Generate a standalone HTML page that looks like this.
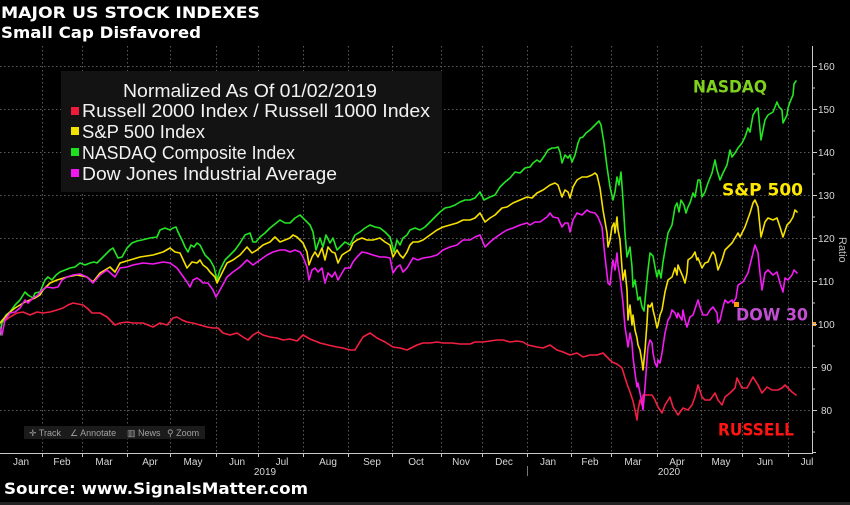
<!DOCTYPE html>
<html><head><meta charset="utf-8"><style>
html,body{margin:0;padding:0;background:#000;}
svg{display:block;}
</style></head><body>
<svg width="850" height="505" viewBox="0 0 850 505" xmlns="http://www.w3.org/2000/svg">
<rect x="0" y="0" width="850" height="505" fill="#000"/>
<!-- titles -->
<text x="1" y="18" font-family="DejaVu Sans, Liberation Sans, sans-serif" font-weight="bold" font-size="16" fill="#fff" textLength="259" lengthAdjust="spacingAndGlyphs">MAJOR US STOCK INDEXES</text>
<text x="1" y="38" font-family="DejaVu Sans, Liberation Sans, sans-serif" font-weight="bold" font-size="16" fill="#fff" textLength="200" lengthAdjust="spacingAndGlyphs">Small Cap Disfavored</text>

<!-- grid -->
<g stroke="#5a5a5a" stroke-width="1" stroke-dasharray="1.5,2.5" fill="none">
<line x1="0" y1="66.5" x2="812" y2="66.5"/>
<line x1="0" y1="109.5" x2="812" y2="109.5"/>
<line x1="0" y1="152.5" x2="812" y2="152.5"/>
<line x1="0" y1="195.5" x2="812" y2="195.5"/>
<line x1="0" y1="238.5" x2="812" y2="238.5"/>
<line x1="0" y1="281.5" x2="812" y2="281.5"/>
<line x1="0" y1="324.5" x2="812" y2="324.5"/>
<line x1="0" y1="367.5" x2="812" y2="367.5"/>
<line x1="0" y1="410.5" x2="812" y2="410.5"/>
<line x1="42.5" y1="46" x2="42.5" y2="453"/>
<line x1="82.5" y1="46" x2="82.5" y2="453"/>
<line x1="127.5" y1="46" x2="127.5" y2="453"/>
<line x1="170.5" y1="46" x2="170.5" y2="453"/>
<line x1="216.5" y1="46" x2="216.5" y2="453"/>
<line x1="258.5" y1="46" x2="258.5" y2="453"/>
<line x1="303.5" y1="46" x2="303.5" y2="453"/>
<line x1="348.5" y1="46" x2="348.5" y2="453"/>
<line x1="392.5" y1="46" x2="392.5" y2="453"/>
<line x1="441.5" y1="46" x2="441.5" y2="453"/>
<line x1="482.5" y1="46" x2="482.5" y2="453"/>
<line x1="527.5" y1="46" x2="527.5" y2="453"/>
<line x1="571.5" y1="46" x2="571.5" y2="453"/>
<line x1="611.5" y1="46" x2="611.5" y2="453"/>
<line x1="657.5" y1="46" x2="657.5" y2="453"/>
<line x1="701.5" y1="46" x2="701.5" y2="453"/>
<line x1="742.5" y1="46" x2="742.5" y2="453"/>
<line x1="788.5" y1="46" x2="788.5" y2="453"/>
</g>

<!-- legend box -->
<rect x="61" y="71" width="381" height="121" fill="#131313"/>
<g font-family="Liberation Sans, Arial, sans-serif" font-size="18" fill="#f2f2f2">
<text x="123" y="97" textLength="254" lengthAdjust="spacingAndGlyphs">Normalized As Of 01/02/2019</text>
<text x="82" y="117" textLength="348" lengthAdjust="spacingAndGlyphs">Russell 2000 Index / Russell 1000 Index</text>
<text x="82" y="138" textLength="123" lengthAdjust="spacingAndGlyphs">S&amp;P 500 Index</text>
<text x="82" y="159" textLength="213" lengthAdjust="spacingAndGlyphs">NASDAQ Composite Index</text>
<text x="82" y="180" textLength="255" lengthAdjust="spacingAndGlyphs">Dow Jones Industrial Average</text>
</g>
<rect x="71" y="107" width="8" height="8" fill="#ee1c3c"/>
<rect x="71" y="127" width="8" height="8" fill="#f2e000"/>
<rect x="71" y="148" width="8" height="8" fill="#1ee01e"/>
<rect x="71" y="169" width="8" height="8" fill="#f018f0"/>

<!-- toolbar -->
<rect x="24" y="426" width="181" height="13" fill="#1b1b1b"/>
<g font-family="Liberation Sans, Arial, sans-serif" font-size="9" fill="#a0a0a0">
<text x="29" y="436">✛ Track</text>
<text x="70" y="436">∠ Annotate</text>
<text x="127" y="436">▥ News</text>
<text x="167" y="436">⚲ Zoom</text>
</g>

<!-- series -->
<g fill="none" stroke-width="1.6" stroke-linejoin="round" stroke-linecap="round">
<polyline stroke="#f21f42" points="0,323 3,322 10,317 17,313 23,312 30,315 37,312 43,313 50,312 57,310 63,308 68,305 73,303 78,304 83,305 87,308 92,313 100,313 107,317 115,325 120,323 127,322 133,323 143,323 153,327 160,323 167,325 173,318 177,317 182,320 187,322 193,323 200,325 207,327 213,328 218,328 223,333 230,335 237,333 243,337 248,340 253,335 258,332 263,335 270,337 277,338 283,340 290,339 297,341 303,335 310,339 320,343 328,345 337,347 343,348 350,350 355,350 358,345 363,337 370,333 377,338 385,342 393,347 400,348 407,350 417,345 423,343 430,343 437,342 443,343 452,343 460,344 470,344 475,342 483,342 490,341 497,340 503,340 510,342 517,341 523,342 528,345 537,347 543,348 550,345 557,350 563,352 570,355 577,353 583,357 590,355 597,355 603,353 607,357 612,362 617,364 622,368 627,384 630,392 633,401 635,410 637,420 638,410 640,400 642,405 643,395 648,395 652,395 655,400 658,407 662,413 665,405 670,397 673,407 678,415 683,408 688,410 692,405 695,397 698,385 702,397 705,400 710,400 715,393 718,400 722,405 725,397 730,393 735,388 737,378 742,388 747,388 753,377 758,385 762,393 767,387 772,390 778,390 782,388 785,385 788,388 792,392 796,395"/>
<polyline stroke="#22e622" points="0,335 2,323 6,315 10,312 15,305 20,300 25,292 28,295 33,298 35,293 40,292 45,280 48,277 52,280 56,275 60,272 65,270 70,268 75,267 80,263 85,265 90,263 94,262 97,263 100,260 105,255 110,250 113,248 115,252 118,258 122,257 127,248 132,243 137,241 142,240 150,238 157,237 160,230 165,228 170,230 173,228 176,227 178,232 182,240 185,247 188,252 191,245 194,247 197,243 200,245 205,255 210,260 214,267 217,280 220,270 225,260 230,255 235,250 240,243 245,235 250,233 253,242 256,242 260,237 265,233 270,228 275,224 280,220 285,223 290,223 295,218 300,215 305,220 310,225 313,232 316,250 320,238 323,247 326,235 330,243 333,238 337,250 340,247 345,242 350,245 355,235 360,232 365,228 370,225 375,227 380,228 385,232 390,237 394,252 397,240 400,245 403,238 407,235 410,230 415,228 420,230 425,227 430,222 435,217 440,212 445,208 450,207 455,205 460,202 465,200 470,200 475,198 480,192 484,200 490,197 495,195 500,187 505,182 510,178 515,172 520,173 525,168 530,167 533,163 537,160 540,162 545,155 548,150 552,148 555,148 558,147 560,152 562,163 565,155 568,158 570,155 572,162 575,155 578,143 580,138 583,137 586,133 590,130 593,127 595,125 597,123 599,121 601,125 604,143 607,167 610,187 613,200 615,192 617,177 619,185 621,172 623,200 625,233 627,257 630,247 632,267 633,287 635,280 637,293 638,300 640,297 642,307 644,311 646,290 648,270 650,253 653,256 655,267 657,277 659,270 661,278 663,262 665,250 668,233 672,225 675,207 677,203 679,212 681,200 684,205 686,213 688,207 690,203 693,193 695,197 698,180 700,180 702,197 705,192 708,183 712,173 715,160 717,170 720,180 723,173 727,165 730,150 732,157 735,153 738,148 742,143 745,137 748,128 750,132 753,115 756,110 758,108 761,140 765,120 768,115 773,112 777,102 779,107 782,110 783,123 787,115 788,108 790,102 793,95 794,84 796,81"/>
<polyline stroke="#f6e000" points="0,323 5,317 10,312 15,308 20,305 25,302 30,300 35,298 40,295 43,290 50,283 57,280 67,277 77,275 87,277 93,282 100,273 110,267 115,272 120,263 130,260 140,257 153,255 163,252 170,248 175,252 180,253 187,268 192,262 197,263 200,260 203,265 207,268 210,272 215,277 217,283 220,277 227,263 233,260 240,255 247,247 252,253 257,250 263,245 270,242 275,237 280,242 285,240 290,238 293,235 297,237 300,240 303,243 307,252 309,265 312,257 315,252 318,257 322,248 325,260 328,247 332,252 335,253 338,263 342,255 345,253 350,250 353,243 357,240 362,238 367,240 373,240 380,238 385,242 390,245 393,257 397,250 400,255 403,258 407,252 410,245 413,242 418,242 423,240 430,235 437,230 443,227 450,225 457,223 463,220 470,220 475,218 480,213 485,222 490,218 495,215 502,208 507,207 513,203 520,200 527,197 532,198 537,193 543,190 550,185 555,183 558,185 562,197 565,190 568,192 570,198 573,187 577,180 582,177 587,177 592,175 595,173 597,175 600,188 603,210 607,233 608,247 610,240 612,227 614,223 615,233 617,217 618,230 620,240 622,268 623,280 625,270 627,290 628,320 630,305 632,325 633,315 635,330 637,338 638,345 640,350 642,362 643,370 645,350 647,323 648,305 650,307 652,303 653,310 655,318 657,328 658,325 660,315 662,310 665,292 668,280 672,277 675,268 677,275 678,265 680,270 683,277 685,283 687,273 688,260 692,257 695,252 697,260 698,258 702,268 705,263 708,262 712,253 713,252 715,255 718,270 722,260 725,250 728,247 732,243 735,238 738,233 740,237 745,227 750,213 753,203 755,200 758,207 761,237 765,222 768,218 773,220 777,218 780,227 783,237 787,225 790,222 793,217 795,210 797,212"/>
<polyline stroke="#f21cf2" points="0,327 2,335 5,320 10,313 15,312 20,308 25,300 28,303 33,298 38,295 42,290 47,287 53,288 58,287 62,280 67,277 73,275 80,274 87,277 93,283 100,275 107,270 115,277 120,268 127,267 133,265 143,263 153,264 163,262 170,263 177,268 182,275 187,282 190,287 193,280 197,278 200,280 203,283 208,283 213,290 216,297 220,290 227,277 233,272 240,267 247,260 253,265 260,260 267,255 273,252 280,250 285,250 290,252 295,250 300,252 303,257 307,267 309,280 312,270 315,268 318,272 322,268 325,283 328,273 332,277 335,272 338,280 342,273 345,268 350,268 353,262 357,257 362,252 367,253 373,255 380,257 385,257 390,258 393,273 397,267 400,265 403,272 407,268 410,263 413,258 418,260 423,258 430,257 437,255 443,250 450,247 457,245 463,240 470,240 475,237 480,235 485,247 490,242 495,238 502,233 507,230 513,228 520,225 527,223 530,225 535,222 540,222 547,217 550,213 553,217 558,218 562,227 565,223 568,223 570,232 573,220 577,213 582,215 587,210 590,212 595,213 598,217 602,227 605,257 608,283 610,285 612,267 613,260 615,270 617,253 618,265 620,277 623,303 625,327 627,340 628,347 630,333 632,343 633,357 635,373 637,387 638,383 640,393 642,403 643,410 645,387 647,360 648,347 650,340 652,343 653,353 655,363 657,367 658,360 660,363 662,353 665,333 668,320 670,317 672,310 675,313 677,318 678,313 680,317 682,320 683,310 685,320 687,327 690,317 693,315 697,303 698,300 700,307 703,315 707,315 710,310 713,307 717,313 718,323 720,320 723,307 725,300 728,303 732,300 733,303 736,298 738,285 743,282 748,273 752,257 755,245 758,253 760,273 762,290 765,273 768,270 773,275 777,272 780,283 783,292 785,278 788,280 792,275 794,270 797,273"/>
</g>

<!-- markers -->
<rect x="734" y="302" width="5" height="5" fill="#ff9a00"/>
<rect x="812" y="322" width="4" height="4" fill="#ffa020"/>

<!-- annotations -->
<g font-family="DejaVu Sans, Liberation Sans, sans-serif" font-weight="bold" font-size="17">
<text x="693" y="92.5" fill="#7fd21c" textLength="74" lengthAdjust="spacingAndGlyphs">NASDAQ</text>
<text x="722" y="195.5" fill="#ffe800" textLength="81" lengthAdjust="spacingAndGlyphs">S&amp;P 500</text>
<text x="736" y="320.5" fill="#c24ed2" textLength="72" lengthAdjust="spacingAndGlyphs">DOW 30</text>
<text x="718" y="435.5" fill="#ff1414" textLength="76" lengthAdjust="spacingAndGlyphs">RUSSELL</text>
</g>

<!-- right axis -->
<line x1="812.5" y1="46" x2="812.5" y2="453" stroke="#c8c8c8" stroke-width="1"/>
<g stroke="#c8c8c8" stroke-width="1">
<line x1="812" y1="66.5" x2="817" y2="66.5"/>
<line x1="812" y1="109.5" x2="817" y2="109.5"/>
<line x1="812" y1="152.5" x2="817" y2="152.5"/>
<line x1="812" y1="195.5" x2="817" y2="195.5"/>
<line x1="812" y1="238.5" x2="817" y2="238.5"/>
<line x1="812" y1="281.5" x2="817" y2="281.5"/>
<line x1="812" y1="324.5" x2="817" y2="324.5"/>
<line x1="812" y1="367.5" x2="817" y2="367.5"/>
<line x1="812" y1="410.5" x2="817" y2="410.5"/>
<line x1="812" y1="88" x2="815" y2="88"/>
<line x1="812" y1="131" x2="815" y2="131"/>
<line x1="812" y1="174" x2="815" y2="174"/>
<line x1="812" y1="217" x2="815" y2="217"/>
<line x1="812" y1="260" x2="815" y2="260"/>
<line x1="812" y1="303" x2="815" y2="303"/>
<line x1="812" y1="346" x2="815" y2="346"/>
<line x1="812" y1="389" x2="815" y2="389"/>
<line x1="812" y1="432" x2="815" y2="432"/>
<line x1="812" y1="452.5" x2="816" y2="452.5"/>
</g>
<g font-family="Liberation Sans, Arial, sans-serif" font-size="10" fill="#d8d8d8">
<text x="818" y="70">160</text>
<text x="818" y="113">150</text>
<text x="818" y="156">140</text>
<text x="818" y="199">130</text>
<text x="818" y="242">120</text>
<text x="818" y="285">110</text>
<text x="818" y="328">100</text>
<text x="821" y="371">90</text>
<text x="821" y="414">80</text>
</g>
<text x="0" y="0" transform="translate(839,237) rotate(90)" font-family="Liberation Sans, Arial, sans-serif" font-size="11" fill="#bbbbbb">Ratio</text>

<!-- bottom axis -->
<line x1="0" y1="453.5" x2="813" y2="453.5" stroke="#c8c8c8" stroke-width="1"/>
<g stroke="#c8c8c8" stroke-width="1">
<line x1="42.5" y1="453" x2="42.5" y2="457"/>
<line x1="82.5" y1="453" x2="82.5" y2="457"/>
<line x1="127.5" y1="453" x2="127.5" y2="457"/>
<line x1="170.5" y1="453" x2="170.5" y2="457"/>
<line x1="216.5" y1="453" x2="216.5" y2="457"/>
<line x1="258.5" y1="453" x2="258.5" y2="457"/>
<line x1="303.5" y1="453" x2="303.5" y2="457"/>
<line x1="348.5" y1="453" x2="348.5" y2="457"/>
<line x1="392.5" y1="453" x2="392.5" y2="457"/>
<line x1="441.5" y1="453" x2="441.5" y2="457"/>
<line x1="482.5" y1="453" x2="482.5" y2="457"/>
<line x1="527.5" y1="453" x2="527.5" y2="457"/>
<line x1="571.5" y1="453" x2="571.5" y2="457"/>
<line x1="611.5" y1="453" x2="611.5" y2="457"/>
<line x1="657.5" y1="453" x2="657.5" y2="457"/>
<line x1="701.5" y1="453" x2="701.5" y2="457"/>
<line x1="742.5" y1="453" x2="742.5" y2="457"/>
<line x1="788.5" y1="453" x2="788.5" y2="457"/>
</g>
<line x1="527.5" y1="466" x2="527.5" y2="476" stroke="#777" stroke-width="1"/>
<g font-family="Liberation Sans, Arial, sans-serif" font-size="10" fill="#d8d8d8" text-anchor="middle">
<text x="21" y="465">Jan</text>
<text x="62" y="465">Feb</text>
<text x="104" y="465">Mar</text>
<text x="150" y="465">Apr</text>
<text x="193" y="465">May</text>
<text x="237" y="465">Jun</text>
<text x="282" y="465">Jul</text>
<text x="328" y="465">Aug</text>
<text x="372" y="465">Sep</text>
<text x="416" y="465">Oct</text>
<text x="461" y="465">Nov</text>
<text x="504" y="465">Dec</text>
<text x="548" y="465">Jan</text>
<text x="590" y="465">Feb</text>
<text x="633" y="465">Mar</text>
<text x="677" y="465">Apr</text>
<text x="721" y="465">May</text>
<text x="765" y="465">Jun</text>
<text x="807" y="465">Jul</text>
<text x="265" y="475">2019</text>
<text x="669" y="475">2020</text>
</g>

<!-- source -->
<text x="4" y="494" font-family="DejaVu Sans, Liberation Sans, sans-serif" font-weight="bold" font-size="16" fill="#fff" textLength="304" lengthAdjust="spacingAndGlyphs">Source:  www.SignalsMatter.com</text>
<rect x="0" y="502" width="850" height="3" fill="#232323"/>
</svg>
</body></html>
